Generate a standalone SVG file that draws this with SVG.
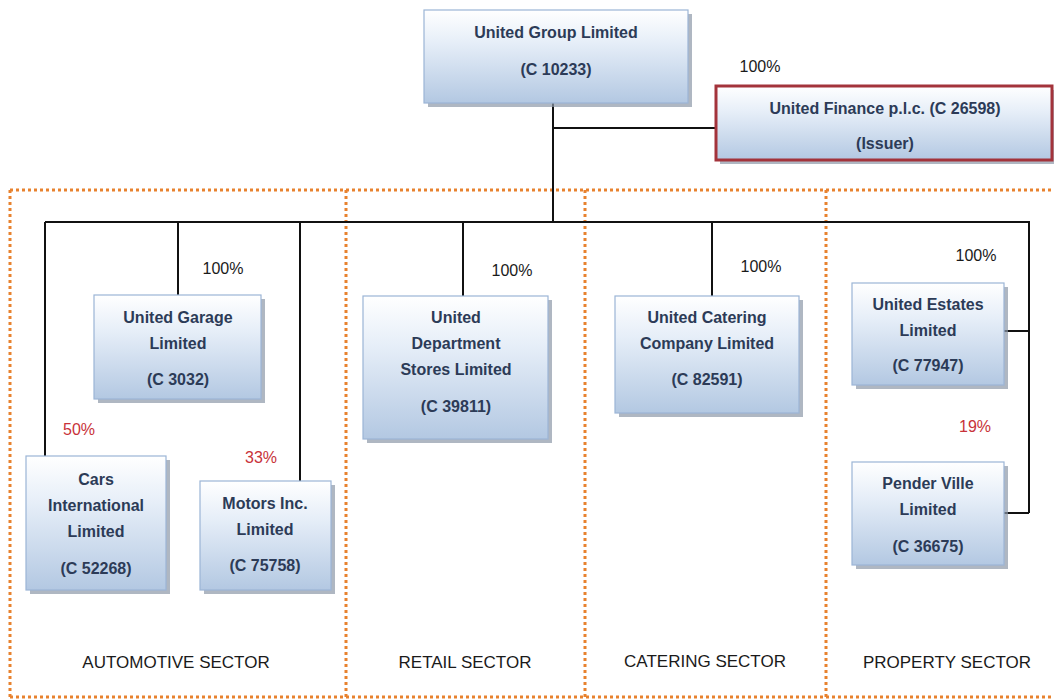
<svg xmlns="http://www.w3.org/2000/svg" width="1054" height="700" viewBox="0 0 1054 700">
<style>
.box{fill:url(#g);stroke:#9bb5d6;stroke-width:1.2}
.sh{fill:#8d99a8;opacity:0.7}
.t{font-family:"Liberation Sans",Arial,sans-serif;font-weight:bold;font-size:16px;fill:#2c3b57;text-anchor:middle}
.p{font-family:"Liberation Sans",Arial,sans-serif;font-size:16px;fill:#1a1a1a;text-anchor:middle}
.r{font-family:"Liberation Sans",Arial,sans-serif;font-size:16px;fill:#c8323a;text-anchor:middle}
.s{font-family:"Liberation Sans",Arial,sans-serif;font-size:17px;fill:#1a1a1a;text-anchor:middle}
.ln{stroke:#111;stroke-width:2;fill:none}
.dot{stroke:#e8822e;stroke-width:3;stroke-dasharray:3 3;fill:none}
</style>
<defs>
<linearGradient id="g" x1="0" y1="0" x2="0" y2="1">
<stop offset="0" stop-color="#ffffff"/>
<stop offset="0.35" stop-color="#e6eef8"/>
<stop offset="1" stop-color="#b3c8e2"/>
</linearGradient>
</defs>
<rect width="1054" height="700" fill="#ffffff"/>
<g id="sectors">
<path class="dot" d="M10 190 H1054 M10 190 V697 M10 697 H1054 M346 190 V697 M585 190 V697 M826 190 V697"/>
<text class="s" x="176" y="668">AUTOMOTIVE SECTOR</text>
<text class="s" x="465" y="668">RETAIL SECTOR</text>
<text class="s" x="705" y="667">CATERING SECTOR</text>
<text class="s" x="947" y="668">PROPERTY SECTOR</text>
</g>
<g id="connectors">
<path class="ln" d="M553 103 V222 M553 128 H716 M45 222 H1029 V513 M1004 331 H1029 M1004 513 H1029 M45 222 V456 M178 222 V295 M300 222 V481 M463 222 V296 M712 222 V296"/>
<text class="p" x="760" y="72">100%</text>
<text class="p" x="223" y="274">100%</text>
<text class="p" x="512" y="276">100%</text>
<text class="p" x="761" y="272">100%</text>
<text class="p" x="976" y="261">100%</text>
<text class="r" x="79" y="435">50%</text>
<text class="r" x="261" y="463">33%</text>
<text class="r" x="975" y="432">19%</text>
</g>
<g id="n-ugl">
<rect class="sh" x="428" y="14" width="264" height="93"/>
<rect class="box" x="424" y="10" width="264" height="93"/>
<text class="t" x="556" y="38">United Group Limited</text>
<text class="t" x="556" y="75">(C 10233)</text>
</g>
<g id="n-finance">
<rect class="sh" x="720" y="90" width="334" height="74"/>
<rect x="716" y="86" width="336" height="74" fill="url(#g)" stroke="#a3333b" stroke-width="3"/>
<text class="t" x="885" y="114">United Finance p.l.c. (C 26598)</text>
<text class="t" x="885" y="149">(Issuer)</text>
</g>
<g id="n-garage">
<rect class="sh" x="98" y="299" width="167" height="104"/>
<rect class="box" x="94" y="295" width="167" height="104"/>
<text class="t" x="178" y="323">United Garage</text>
<text class="t" x="178" y="349">Limited</text>
<text class="t" x="178" y="385">(C 3032)</text>
</g>
<g id="n-cars">
<rect class="sh" x="30" y="460" width="140" height="134"/>
<rect class="box" x="26" y="456" width="140" height="134"/>
<text class="t" x="96" y="485">Cars</text>
<text class="t" x="96" y="511">International</text>
<text class="t" x="96" y="537">Limited</text>
<text class="t" x="96" y="574">(C 52268)</text>
</g>
<g id="n-motors">
<rect class="sh" x="204" y="485" width="131" height="109"/>
<rect class="box" x="200" y="481" width="131" height="109"/>
<text class="t" x="265" y="509">Motors Inc.</text>
<text class="t" x="265" y="535">Limited</text>
<text class="t" x="265" y="571">(C 75758)</text>
</g>
<g id="n-dept">
<rect class="sh" x="367" y="300" width="185" height="143"/>
<rect class="box" x="363" y="296" width="185" height="143"/>
<text class="t" x="456" y="323">United</text>
<text class="t" x="456" y="349">Department</text>
<text class="t" x="456" y="375">Stores Limited</text>
<text class="t" x="456" y="412">(C 39811)</text>
</g>
<g id="n-catering">
<rect class="sh" x="619" y="300" width="184" height="117"/>
<rect class="box" x="615" y="296" width="184" height="117"/>
<text class="t" x="707" y="323">United Catering</text>
<text class="t" x="707" y="349">Company Limited</text>
<text class="t" x="707" y="385">(C 82591)</text>
</g>
<g id="n-estates">
<rect class="sh" x="856" y="287" width="152" height="102"/>
<rect class="box" x="852" y="283" width="152" height="102"/>
<text class="t" x="928" y="310">United Estates</text>
<text class="t" x="928" y="336">Limited</text>
<text class="t" x="928" y="371">(C 77947)</text>
</g>
<g id="n-pender">
<rect class="sh" x="856" y="466" width="152" height="103"/>
<rect class="box" x="852" y="462" width="152" height="103"/>
<text class="t" x="928" y="489">Pender Ville</text>
<text class="t" x="928" y="515">Limited</text>
<text class="t" x="928" y="552">(C 36675)</text>
</g>
</svg>
